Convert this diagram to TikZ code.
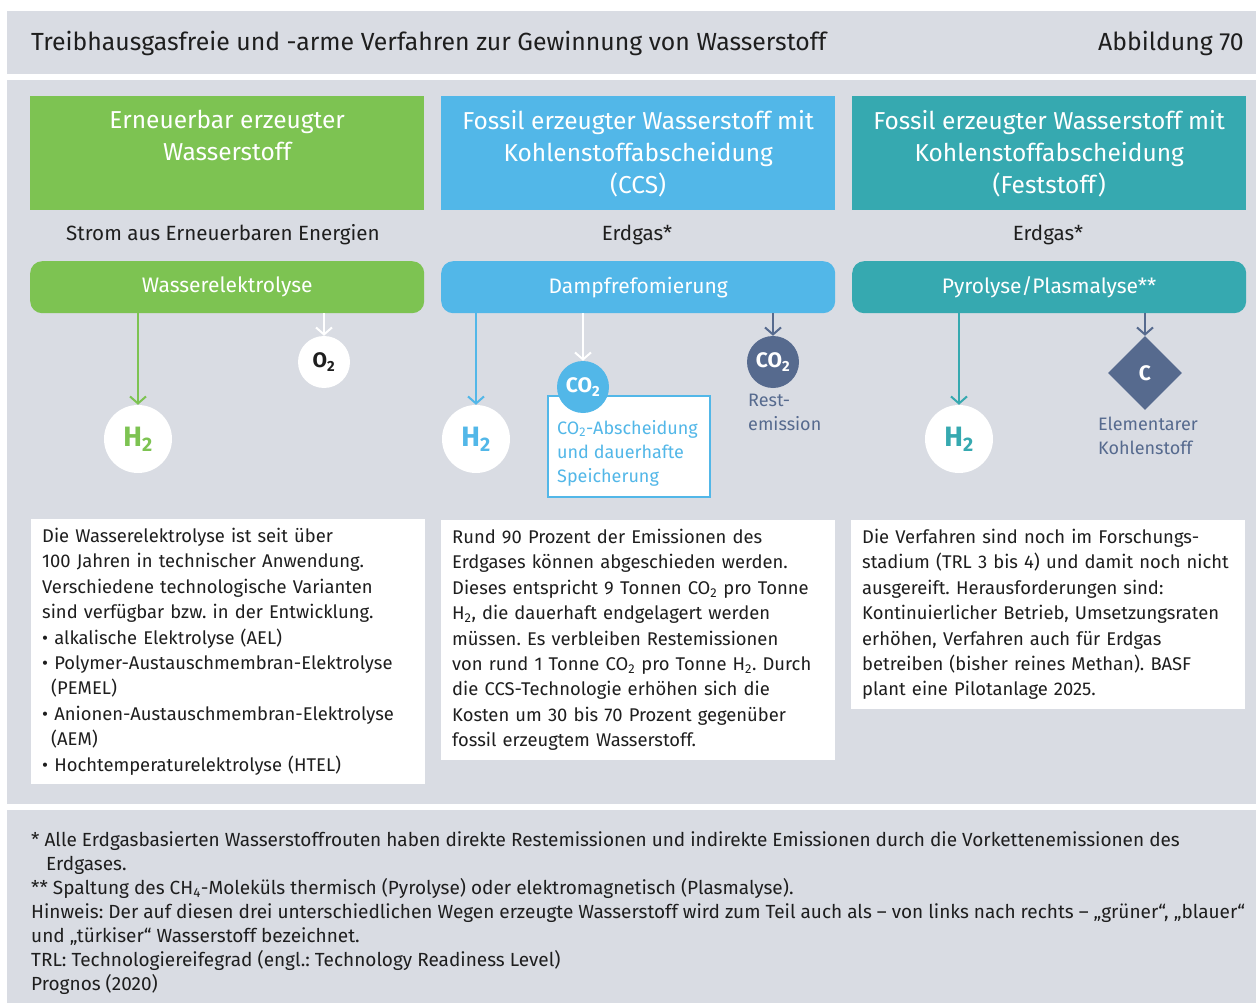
\documentclass[tikz,border=0pt]{standalone}
\usepackage{fontspec}
\setmainfont{Fira Sans}
\usetikzlibrary{arrows.meta,positioning,shapes.geometric}

\definecolor{bggray}{HTML}{D9DCE3}
\definecolor{cgreen}{HTML}{7DC352}
\definecolor{cblue}{HTML}{52B7E8}
\definecolor{cteal}{HTML}{36A9B0}
\definecolor{cslate}{HTML}{566A8E}
\definecolor{txtdark}{HTML}{1E1E1E}
\frenchspacing

\begin{document}
\begin{tikzpicture}[
  x=1pt, y=-1pt,
  head/.style={minimum width=394pt, minimum height=114pt, anchor=north west, inner sep=0pt},
  headtext/.style={text=white, align=center, anchor=north, inner sep=0pt,
                   font=\fontsize{24.5}{32}\selectfont},
  source/.style={anchor=base, text=txtdark, font=\fontsize{20.6}{23}\selectfont},
  proc/.style={rounded corners=12pt, minimum width=394pt, minimum height=52pt,
               anchor=north west, text=white, font=\fontsize{21}{24}\selectfont},
  hydro/.style={circle, fill=white, minimum size=68pt, inner sep=0pt,
                font=\fontsize{28}{30}\selectfont\bfseries},
  gas/.style={circle, minimum size=52pt, inner sep=0pt, font=\fontsize{21}{24}\selectfont\bfseries},
  note/.style={anchor=north west, align=left, inner sep=0pt, font=\fontsize{18}{24}\selectfont},
  info/.style={fill=white, anchor=north west, text width=372pt, inner xsep=11pt, inner ysep=9pt,
               align=left, text=txtdark, font=\fontsize{18.4}{25.4}\selectfont},
  arr/.style={-{Straight Barb[length=7pt,width=16pt]}, line width=2pt},
]
  \useasboundingbox (0,0) rectangle (1256,1003);
  \fill[white] (0,0) rectangle (1256,1003);
  \fill[bggray] (7,11) rectangle (1256,74);
  \fill[bggray] (7,80) rectangle (1256,804);
  \fill[bggray] (7,810) rectangle (1256,1003);

  % title
  \node[anchor=base west, inner sep=0pt, text=txtdark, font=\fontsize{24.8}{28}\selectfont] (title) at (31,51)
    {Treibhausgasfreie und -arme Verfahren zur Gewinnung von Wasserstoff};
  \node[anchor=base east, inner sep=0pt, text=txtdark, font=\fontsize{24.8}{28}\selectfont] (fig) at (1244,51)
    {Abbildung 70};

  % column heads
  \node[head, fill=cgreen] (headRen) at (30,96) {};
  \node[head, fill=cblue] (headCCS) at (441,96) {};
  \node[head, fill=cteal] (headSol) at (852,96) {};
  \node[headtext, below=14pt of headRen.north] {Erneuerbar erzeugter\\Wasserstoff};
  \node[headtext, below=14pt of headCCS.north] {Fossil erzeugter Wasserstoff mit\\Kohlenstoffabscheidung\\(CCS)};
  \node[headtext, below=14pt of headSol.north] {Fossil erzeugter Wasserstoff mit\\Kohlenstoffabscheidung\\(Feststoff)};

  % inputs
  \node[source] (srcRen) at (223,241) {Strom aus Erneuerbaren Energien};
  \node[source] (srcCCS) at (637,241) {Erdgas*};
  \node[source] (srcSol) at (1048,241) {Erdgas*};

  % processes
  \node[proc, fill=cgreen] (procRen) at (30,261) {Wasserelektrolyse};
  \node[proc, fill=cblue] (procCCS) at (441,261) {Dampfrefomierung};
  \node[proc, fill=cteal] (procSol) at (852,261) {Pyrolyse/Plasmalyse**};

  % products
  \node[hydro, text=cgreen] (h2Ren) at (138,439) {H\textsubscript{2}};
  \node[gas, fill=white, text=txtdark] (o2Ren) at (324,362) {O\textsubscript{2}};
  \node[hydro, text=cblue] (h2CCS) at (476,439) {H\textsubscript{2}};
  \node[draw=cblue, line width=2pt, fill=white, minimum width=162pt, minimum height=101pt,
        anchor=north west] (capBox) at (547,395) {};
  \node[note, text=cblue] (capText) at (557,420)
    {CO\textsubscript{2}-Abscheidung\\und dauerhafte\\Speicherung};
  \node[gas, fill=cblue, text=white] (co2Cap) at (583,387) {CO\textsubscript{2}};
  \node[gas, fill=cslate, text=white] (co2Rest) at (773,362) {CO\textsubscript{2}};
  \node[note, text=cslate] (restText) at (748,394) {Rest-\\emission};
  \node[hydro, text=cteal] (h2Sol) at (959,439) {H\textsubscript{2}};
  \node[diamond, fill=cslate, text=white, minimum width=74pt, minimum height=74pt, inner sep=0pt,
        font=\fontsize{21}{24}\selectfont\bfseries] (carbon) at (1145,373) {C};
  \node[note, text=cslate] (carbText) at (1098,417) {Elementarer\\Kohlenstoff};

  % arrows
  \draw[arr, cgreen] (h2Ren |- procRen.south) -- (h2Ren.north);
  \draw[arr, white] (o2Ren |- procRen.south) -- (o2Ren.north);
  \draw[arr, cblue] (h2CCS |- procCCS.south) -- (h2CCS.north);
  \draw[arr, white] (co2Cap |- procCCS.south) -- (co2Cap.north);
  \draw[arr, cslate] (co2Rest |- procCCS.south) -- (co2Rest.north);
  \draw[arr, cteal] (h2Sol |- procSol.south) -- (h2Sol.north);
  \draw[arr, cslate] (carbon |- procSol.south) -- (carbon.north);

  % descriptions
  \node[info] (infoRen) at (31,519) {Die Wasserelektrolyse ist seit über\\
    100 Jahren in technischer Anwendung.\\
    Verschiedene technologische Varianten\\
    sind verfügbar bzw. in der Entwicklung.\\
    • alkalische Elektrolyse (AEL)\\
    • Polymer-Austauschmembran-Elektrolyse\\
    \hspace*{9pt}(PEMEL)\\
    • Anionen-Austauschmembran-Elektrolyse\\
    \hspace*{9pt}(AEM)\\
    • Hochtemperaturelektrolyse (HTEL)};
  \node[info] (infoCCS) at (441,520) {Rund 90 Prozent der Emissionen des\\
    Erdgases können abgeschieden werden.\\
    Dieses entspricht 9 Tonnen CO\textsubscript{2} pro Tonne\\
    H\textsubscript{2}, die dauerhaft endgelagert werden\\
    müssen. Es verbleiben Restemissionen\\
    von rund 1 Tonne CO\textsubscript{2} pro Tonne H\textsubscript{2}. Durch\\
    die CCS-Technologie erhöhen sich die\\
    Kosten um 30 bis 70 Prozent gegenüber\\
    fossil erzeugtem Wasserstoff.};
  \node[info] (infoSol) at (851,520) {Die Verfahren sind noch im Forschungs-\\
    stadium (TRL 3 bis 4) und damit noch nicht\\
    ausgereift. Herausforderungen sind:\\
    Kontinuierlicher Betrieb, Umsetzungsraten\\
    erhöhen, Verfahren auch für Erdgas\\
    betreiben (bisher reines Methan). BASF\\
    plant eine Pilotanlage 2025.};

  % footnotes
  \node[anchor=north west, align=left, inner sep=0pt, text=txtdark,
        font=\fontsize{19}{24}\selectfont] (notes) at (31,831)
    {* Alle Erdgasbasierten Wasserstoffrouten haben direkte Restemissionen und indirekte Emissionen durch die Vorkettenemissionen des\\
    \hspace*{15pt}Erdgases.\\
    ** Spaltung des CH\textsubscript{4}-Moleküls thermisch (Pyrolyse) oder elektromagnetisch (Plasmalyse).\\
    Hinweis: Der auf diesen drei unterschiedlichen Wegen erzeugte Wasserstoff wird zum Teil auch als – von links nach rechts – „grüner“, „blauer“\\
    und „türkiser“ Wasserstoff bezeichnet.\\
    TRL: Technologiereifegrad (engl.: Technology Readiness Level)\\
    Prognos (2020)};
\end{tikzpicture}
\end{document}
